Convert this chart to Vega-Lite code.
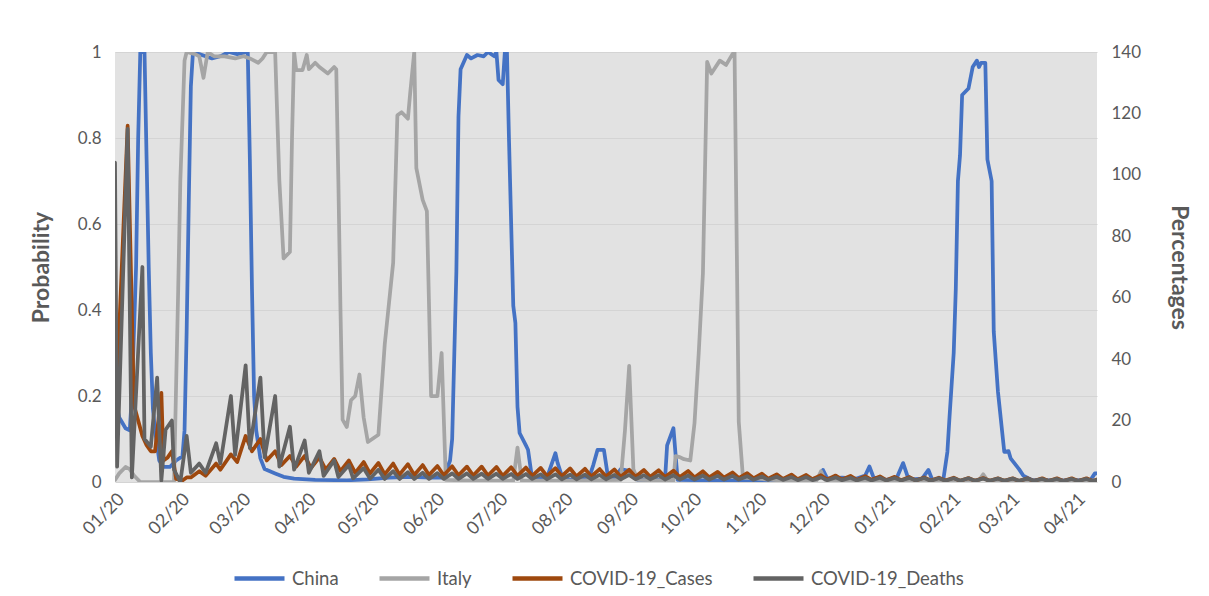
{
  "$schema": "https://vega.github.io/schema/vega-lite/v6.json",
  "width": 982,
  "height": 430,
  "autosize": {"type": "none"},
  "padding": {"left": 115, "top": 52, "right": 112, "bottom": 114},
  "background": "white",
  "config": {
    "font": "Lato",
    "view": {"fill": "#e2e2e2", "stroke": null},
    "axis": {"labelColor": "#595959", "labelFontSize": 17, "titleColor": "#595959", "titleFontSize": 23, "titleFontWeight": "bold", "domain": false, "ticks": false}
  },
  "datasets": {
    "prob": [
      {"date":"2020-01-22","series":"China","value":0.2},
      {"date":"2020-01-24","series":"China","value":0.15},
      {"date":"2020-01-27","series":"China","value":0.125},
      {"date":"2020-01-29","series":"China","value":0.12},
      {"date":"2020-01-30","series":"China","value":0.2},
      {"date":"2020-02-01","series":"China","value":0.5},
      {"date":"2020-02-02","series":"China","value":0.8},
      {"date":"2020-02-03","series":"China","value":1.0},
      {"date":"2020-02-05","series":"China","value":1.0},
      {"date":"2020-02-06","series":"China","value":0.75},
      {"date":"2020-02-07","series":"China","value":0.5},
      {"date":"2020-02-08","series":"China","value":0.3},
      {"date":"2020-02-09","series":"China","value":0.17},
      {"date":"2020-02-10","series":"China","value":0.12},
      {"date":"2020-02-12","series":"China","value":0.05},
      {"date":"2020-02-14","series":"China","value":0.035},
      {"date":"2020-02-17","series":"China","value":0.035},
      {"date":"2020-02-20","series":"China","value":0.05},
      {"date":"2020-02-23","series":"China","value":0.06},
      {"date":"2020-02-24","series":"China","value":0.12},
      {"date":"2020-02-25","series":"China","value":0.35},
      {"date":"2020-02-26","series":"China","value":0.65},
      {"date":"2020-02-27","series":"China","value":0.92},
      {"date":"2020-02-28","series":"China","value":1.0},
      {"date":"2020-03-02","series":"China","value":0.995},
      {"date":"2020-03-05","series":"China","value":0.99},
      {"date":"2020-03-08","series":"China","value":0.985},
      {"date":"2020-03-12","series":"China","value":0.99},
      {"date":"2020-03-16","series":"China","value":1.0},
      {"date":"2020-03-20","series":"China","value":0.995},
      {"date":"2020-03-25","series":"China","value":1.0},
      {"date":"2020-03-26","series":"China","value":0.75},
      {"date":"2020-03-27","series":"China","value":0.45},
      {"date":"2020-03-28","series":"China","value":0.2},
      {"date":"2020-03-29","series":"China","value":0.12},
      {"date":"2020-03-31","series":"China","value":0.055},
      {"date":"2020-04-02","series":"China","value":0.03},
      {"date":"2020-04-07","series":"China","value":0.02},
      {"date":"2020-04-11","series":"China","value":0.012},
      {"date":"2020-04-16","series":"China","value":0.008},
      {"date":"2020-04-26","series":"China","value":0.005},
      {"date":"2020-05-11","series":"China","value":0.004},
      {"date":"2020-05-21","series":"China","value":0.006},
      {"date":"2020-05-31","series":"China","value":0.01},
      {"date":"2020-06-10","series":"China","value":0.012},
      {"date":"2020-06-20","series":"China","value":0.01},
      {"date":"2020-06-26","series":"China","value":0.01},
      {"date":"2020-06-29","series":"China","value":0.05},
      {"date":"2020-06-30","series":"China","value":0.1},
      {"date":"2020-07-02","series":"China","value":0.49},
      {"date":"2020-07-03","series":"China","value":0.85},
      {"date":"2020-07-04","series":"China","value":0.96},
      {"date":"2020-07-07","series":"China","value":0.993},
      {"date":"2020-07-09","series":"China","value":0.985},
      {"date":"2020-07-12","series":"China","value":0.993},
      {"date":"2020-07-15","series":"China","value":0.99},
      {"date":"2020-07-17","series":"China","value":1.0},
      {"date":"2020-07-20","series":"China","value":0.99},
      {"date":"2020-07-21","series":"China","value":1.0},
      {"date":"2020-07-22","series":"China","value":0.935},
      {"date":"2020-07-24","series":"China","value":0.925},
      {"date":"2020-07-25","series":"China","value":1.0},
      {"date":"2020-07-26","series":"China","value":1.0},
      {"date":"2020-07-27","series":"China","value":0.79},
      {"date":"2020-07-29","series":"China","value":0.41},
      {"date":"2020-07-30","series":"China","value":0.37},
      {"date":"2020-07-31","series":"China","value":0.175},
      {"date":"2020-08-01","series":"China","value":0.114},
      {"date":"2020-08-04","series":"China","value":0.085},
      {"date":"2020-08-05","series":"China","value":0.075},
      {"date":"2020-08-07","series":"China","value":0.006},
      {"date":"2020-08-14","series":"China","value":0.01},
      {"date":"2020-08-18","series":"China","value":0.067},
      {"date":"2020-08-19","series":"China","value":0.045},
      {"date":"2020-08-21","series":"China","value":0.015},
      {"date":"2020-08-25","series":"China","value":0.005},
      {"date":"2020-09-03","series":"China","value":0.01},
      {"date":"2020-09-05","series":"China","value":0.04},
      {"date":"2020-09-07","series":"China","value":0.075},
      {"date":"2020-09-10","series":"China","value":0.075},
      {"date":"2020-09-12","series":"China","value":0.01},
      {"date":"2020-09-15","series":"China","value":0.008},
      {"date":"2020-09-18","series":"China","value":0.03},
      {"date":"2020-09-23","series":"China","value":0.025},
      {"date":"2020-09-26","series":"China","value":0.005},
      {"date":"2020-10-09","series":"China","value":0.005},
      {"date":"2020-10-10","series":"China","value":0.085},
      {"date":"2020-10-13","series":"China","value":0.125},
      {"date":"2020-10-15","series":"China","value":0.005},
      {"date":"2020-10-28","series":"China","value":0.004},
      {"date":"2020-11-17","series":"China","value":0.004},
      {"date":"2020-12-02","series":"China","value":0.005},
      {"date":"2020-12-17","series":"China","value":0.006},
      {"date":"2020-12-21","series":"China","value":0.01},
      {"date":"2020-12-23","series":"China","value":0.028},
      {"date":"2020-12-25","series":"China","value":0.008},
      {"date":"2021-01-01","series":"China","value":0.01},
      {"date":"2021-01-08","series":"China","value":0.008},
      {"date":"2021-01-12","series":"China","value":0.015},
      {"date":"2021-01-14","series":"China","value":0.036},
      {"date":"2021-01-16","series":"China","value":0.01},
      {"date":"2021-01-22","series":"China","value":0.005},
      {"date":"2021-01-27","series":"China","value":0.01},
      {"date":"2021-01-30","series":"China","value":0.044},
      {"date":"2021-02-01","series":"China","value":0.015},
      {"date":"2021-02-03","series":"China","value":0.006},
      {"date":"2021-02-08","series":"China","value":0.008},
      {"date":"2021-02-11","series":"China","value":0.028},
      {"date":"2021-02-13","series":"China","value":0.003},
      {"date":"2021-02-18","series":"China","value":0.003},
      {"date":"2021-02-20","series":"China","value":0.07},
      {"date":"2021-02-21","series":"China","value":0.15},
      {"date":"2021-02-23","series":"China","value":0.3},
      {"date":"2021-02-24","series":"China","value":0.45},
      {"date":"2021-02-25","series":"China","value":0.7},
      {"date":"2021-02-26","series":"China","value":0.76},
      {"date":"2021-02-27","series":"China","value":0.9},
      {"date":"2021-03-02","series":"China","value":0.915},
      {"date":"2021-03-04","series":"China","value":0.965},
      {"date":"2021-03-06","series":"China","value":0.98},
      {"date":"2021-03-07","series":"China","value":0.965},
      {"date":"2021-03-08","series":"China","value":0.975},
      {"date":"2021-03-10","series":"China","value":0.975},
      {"date":"2021-03-11","series":"China","value":0.75},
      {"date":"2021-03-13","series":"China","value":0.7},
      {"date":"2021-03-14","series":"China","value":0.35},
      {"date":"2021-03-16","series":"China","value":0.21},
      {"date":"2021-03-19","series":"China","value":0.07},
      {"date":"2021-03-21","series":"China","value":0.072},
      {"date":"2021-03-22","series":"China","value":0.055},
      {"date":"2021-03-26","series":"China","value":0.03},
      {"date":"2021-03-28","series":"China","value":0.015},
      {"date":"2021-04-01","series":"China","value":0.005},
      {"date":"2021-04-16","series":"China","value":0.004},
      {"date":"2021-04-29","series":"China","value":0.005},
      {"date":"2021-05-01","series":"China","value":0.02},
      {"date":"2021-05-02","series":"China","value":0.02},
      {"date":"2020-01-22","series":"Italy","value":0.005},
      {"date":"2020-01-24","series":"Italy","value":0.02},
      {"date":"2020-01-27","series":"Italy","value":0.035},
      {"date":"2020-01-29","series":"Italy","value":0.03},
      {"date":"2020-01-31","series":"Italy","value":0.015},
      {"date":"2020-02-03","series":"Italy","value":0.0},
      {"date":"2020-02-11","series":"Italy","value":0.0},
      {"date":"2020-02-19","series":"Italy","value":0.0},
      {"date":"2020-02-21","series":"Italy","value":0.45},
      {"date":"2020-02-22","series":"Italy","value":0.7},
      {"date":"2020-02-24","series":"Italy","value":0.98},
      {"date":"2020-02-25","series":"Italy","value":1.0},
      {"date":"2020-02-29","series":"Italy","value":0.995},
      {"date":"2020-03-02","series":"Italy","value":0.99},
      {"date":"2020-03-04","series":"Italy","value":0.94},
      {"date":"2020-03-06","series":"Italy","value":1.0},
      {"date":"2020-03-09","series":"Italy","value":0.99},
      {"date":"2020-03-14","series":"Italy","value":0.99},
      {"date":"2020-03-19","series":"Italy","value":0.985},
      {"date":"2020-03-23","series":"Italy","value":0.99},
      {"date":"2020-03-26","series":"Italy","value":0.985},
      {"date":"2020-03-30","series":"Italy","value":0.975},
      {"date":"2020-04-01","series":"Italy","value":0.985},
      {"date":"2020-04-03","series":"Italy","value":1.0},
      {"date":"2020-04-07","series":"Italy","value":1.0},
      {"date":"2020-04-09","series":"Italy","value":0.7},
      {"date":"2020-04-11","series":"Italy","value":0.52},
      {"date":"2020-04-14","series":"Italy","value":0.535},
      {"date":"2020-04-15","series":"Italy","value":0.8},
      {"date":"2020-04-16","series":"Italy","value":1.0},
      {"date":"2020-04-17","series":"Italy","value":0.958},
      {"date":"2020-04-20","series":"Italy","value":0.958},
      {"date":"2020-04-22","series":"Italy","value":0.993},
      {"date":"2020-04-23","series":"Italy","value":0.96},
      {"date":"2020-04-26","series":"Italy","value":0.975},
      {"date":"2020-04-28","series":"Italy","value":0.965},
      {"date":"2020-05-02","series":"Italy","value":0.95},
      {"date":"2020-05-05","series":"Italy","value":0.965},
      {"date":"2020-05-06","series":"Italy","value":0.96},
      {"date":"2020-05-07","series":"Italy","value":0.7},
      {"date":"2020-05-08","series":"Italy","value":0.4},
      {"date":"2020-05-09","series":"Italy","value":0.145},
      {"date":"2020-05-11","series":"Italy","value":0.128},
      {"date":"2020-05-13","series":"Italy","value":0.19},
      {"date":"2020-05-15","series":"Italy","value":0.2},
      {"date":"2020-05-17","series":"Italy","value":0.25},
      {"date":"2020-05-19","series":"Italy","value":0.15},
      {"date":"2020-05-21","series":"Italy","value":0.093},
      {"date":"2020-05-26","series":"Italy","value":0.11},
      {"date":"2020-05-29","series":"Italy","value":0.32},
      {"date":"2020-06-02","series":"Italy","value":0.51},
      {"date":"2020-06-04","series":"Italy","value":0.853},
      {"date":"2020-06-06","series":"Italy","value":0.86},
      {"date":"2020-06-09","series":"Italy","value":0.845},
      {"date":"2020-06-10","series":"Italy","value":0.9},
      {"date":"2020-06-12","series":"Italy","value":1.0},
      {"date":"2020-06-13","series":"Italy","value":0.73},
      {"date":"2020-06-16","series":"Italy","value":0.656},
      {"date":"2020-06-18","series":"Italy","value":0.63},
      {"date":"2020-06-20","series":"Italy","value":0.2},
      {"date":"2020-06-23","series":"Italy","value":0.2},
      {"date":"2020-06-25","series":"Italy","value":0.3},
      {"date":"2020-06-27","series":"Italy","value":0.005},
      {"date":"2020-07-10","series":"Italy","value":0.003},
      {"date":"2020-07-29","series":"Italy","value":0.003},
      {"date":"2020-07-31","series":"Italy","value":0.08},
      {"date":"2020-08-02","series":"Italy","value":0.003},
      {"date":"2020-08-24","series":"Italy","value":0.003},
      {"date":"2020-09-18","series":"Italy","value":0.005},
      {"date":"2020-09-20","series":"Italy","value":0.12},
      {"date":"2020-09-22","series":"Italy","value":0.27},
      {"date":"2020-09-24","series":"Italy","value":0.03},
      {"date":"2020-09-26","series":"Italy","value":0.005},
      {"date":"2020-10-13","series":"Italy","value":0.003},
      {"date":"2020-10-14","series":"Italy","value":0.06},
      {"date":"2020-10-16","series":"Italy","value":0.058},
      {"date":"2020-10-18","series":"Italy","value":0.053},
      {"date":"2020-10-21","series":"Italy","value":0.05},
      {"date":"2020-10-23","series":"Italy","value":0.137},
      {"date":"2020-10-25","series":"Italy","value":0.3},
      {"date":"2020-10-27","series":"Italy","value":0.486},
      {"date":"2020-10-29","series":"Italy","value":0.977},
      {"date":"2020-10-31","series":"Italy","value":0.95},
      {"date":"2020-11-04","series":"Italy","value":0.98},
      {"date":"2020-11-07","series":"Italy","value":0.97},
      {"date":"2020-11-10","series":"Italy","value":0.995},
      {"date":"2020-11-11","series":"Italy","value":1.0},
      {"date":"2020-11-13","series":"Italy","value":0.14},
      {"date":"2020-11-15","series":"Italy","value":0.01},
      {"date":"2020-12-02","series":"Italy","value":0.004},
      {"date":"2020-12-20","series":"Italy","value":0.004},
      {"date":"2020-12-22","series":"Italy","value":0.025},
      {"date":"2020-12-24","series":"Italy","value":0.005},
      {"date":"2021-01-16","series":"Italy","value":0.003},
      {"date":"2021-02-15","series":"Italy","value":0.003},
      {"date":"2021-03-07","series":"Italy","value":0.004},
      {"date":"2021-03-09","series":"Italy","value":0.018},
      {"date":"2021-03-11","series":"Italy","value":0.004},
      {"date":"2021-04-06","series":"Italy","value":0.003},
      {"date":"2021-05-02","series":"Italy","value":0.003}
    ],
    "pct": [
      {"date":"2020-01-22","series":"COVID-19_Cases","value":38},
      {"date":"2020-01-23","series":"COVID-19_Cases","value":33},
      {"date":"2020-01-28","series":"COVID-19_Cases","value":116},
      {"date":"2020-01-31","series":"COVID-19_Cases","value":25},
      {"date":"2020-02-02","series":"COVID-19_Cases","value":20},
      {"date":"2020-02-04","series":"COVID-19_Cases","value":15},
      {"date":"2020-02-06","series":"COVID-19_Cases","value":12},
      {"date":"2020-02-08","series":"COVID-19_Cases","value":10},
      {"date":"2020-02-10","series":"COVID-19_Cases","value":10},
      {"date":"2020-02-13","series":"COVID-19_Cases","value":29},
      {"date":"2020-02-14","series":"COVID-19_Cases","value":7},
      {"date":"2020-02-16","series":"COVID-19_Cases","value":8},
      {"date":"2020-02-18","series":"COVID-19_Cases","value":10},
      {"date":"2020-02-20","series":"COVID-19_Cases","value":1},
      {"date":"2020-02-23","series":"COVID-19_Cases","value":0.5},
      {"date":"2020-02-25","series":"COVID-19_Cases","value":1.5},
      {"date":"2020-02-27","series":"COVID-19_Cases","value":1.5},
      {"date":"2020-03-02","series":"COVID-19_Cases","value":3.5},
      {"date":"2020-03-05","series":"COVID-19_Cases","value":2},
      {"date":"2020-03-10","series":"COVID-19_Cases","value":6},
      {"date":"2020-03-12","series":"COVID-19_Cases","value":4},
      {"date":"2020-03-17","series":"COVID-19_Cases","value":9},
      {"date":"2020-03-20","series":"COVID-19_Cases","value":6.5},
      {"date":"2020-03-24","series":"COVID-19_Cases","value":15},
      {"date":"2020-03-27","series":"COVID-19_Cases","value":10},
      {"date":"2020-03-31","series":"COVID-19_Cases","value":14},
      {"date":"2020-04-03","series":"COVID-19_Cases","value":7},
      {"date":"2020-04-07","series":"COVID-19_Cases","value":10},
      {"date":"2020-04-10","series":"COVID-19_Cases","value":5.5},
      {"date":"2020-04-14","series":"COVID-19_Cases","value":8.5},
      {"date":"2020-04-17","series":"COVID-19_Cases","value":5},
      {"date":"2020-04-21","series":"COVID-19_Cases","value":8.5},
      {"date":"2020-04-24","series":"COVID-19_Cases","value":4.5},
      {"date":"2020-04-28","series":"COVID-19_Cases","value":8},
      {"date":"2020-05-01","series":"COVID-19_Cases","value":4},
      {"date":"2020-05-05","series":"COVID-19_Cases","value":7.5},
      {"date":"2020-05-08","series":"COVID-19_Cases","value":3.5},
      {"date":"2020-05-12","series":"COVID-19_Cases","value":7},
      {"date":"2020-05-15","series":"COVID-19_Cases","value":3},
      {"date":"2020-05-19","series":"COVID-19_Cases","value":6.5},
      {"date":"2020-05-22","series":"COVID-19_Cases","value":2.8},
      {"date":"2020-05-26","series":"COVID-19_Cases","value":6.2},
      {"date":"2020-05-29","series":"COVID-19_Cases","value":2.5},
      {"date":"2020-06-02","series":"COVID-19_Cases","value":6},
      {"date":"2020-06-05","series":"COVID-19_Cases","value":2.4},
      {"date":"2020-06-09","series":"COVID-19_Cases","value":5.8},
      {"date":"2020-06-12","series":"COVID-19_Cases","value":2.3},
      {"date":"2020-06-16","series":"COVID-19_Cases","value":5.5},
      {"date":"2020-06-19","series":"COVID-19_Cases","value":2.3},
      {"date":"2020-06-23","series":"COVID-19_Cases","value":5.2},
      {"date":"2020-06-26","series":"COVID-19_Cases","value":2.2},
      {"date":"2020-06-30","series":"COVID-19_Cases","value":5.1},
      {"date":"2020-07-03","series":"COVID-19_Cases","value":2.2},
      {"date":"2020-07-07","series":"COVID-19_Cases","value":5.0},
      {"date":"2020-07-10","series":"COVID-19_Cases","value":2.1},
      {"date":"2020-07-14","series":"COVID-19_Cases","value":5.0},
      {"date":"2020-07-17","series":"COVID-19_Cases","value":2.1},
      {"date":"2020-07-21","series":"COVID-19_Cases","value":4.9},
      {"date":"2020-07-24","series":"COVID-19_Cases","value":2.0},
      {"date":"2020-07-28","series":"COVID-19_Cases","value":4.8},
      {"date":"2020-07-31","series":"COVID-19_Cases","value":2.0},
      {"date":"2020-08-04","series":"COVID-19_Cases","value":4.7},
      {"date":"2020-08-07","series":"COVID-19_Cases","value":2.0},
      {"date":"2020-08-11","series":"COVID-19_Cases","value":4.6},
      {"date":"2020-08-14","series":"COVID-19_Cases","value":1.9},
      {"date":"2020-08-18","series":"COVID-19_Cases","value":4.5},
      {"date":"2020-08-21","series":"COVID-19_Cases","value":1.9},
      {"date":"2020-08-25","series":"COVID-19_Cases","value":4.4},
      {"date":"2020-08-28","series":"COVID-19_Cases","value":1.8},
      {"date":"2020-09-01","series":"COVID-19_Cases","value":4.3},
      {"date":"2020-09-04","series":"COVID-19_Cases","value":1.8},
      {"date":"2020-09-08","series":"COVID-19_Cases","value":4.2},
      {"date":"2020-09-11","series":"COVID-19_Cases","value":1.8},
      {"date":"2020-09-15","series":"COVID-19_Cases","value":4.1},
      {"date":"2020-09-18","series":"COVID-19_Cases","value":1.7},
      {"date":"2020-09-22","series":"COVID-19_Cases","value":4.0},
      {"date":"2020-09-25","series":"COVID-19_Cases","value":1.7},
      {"date":"2020-09-29","series":"COVID-19_Cases","value":3.9},
      {"date":"2020-10-02","series":"COVID-19_Cases","value":1.7},
      {"date":"2020-10-06","series":"COVID-19_Cases","value":3.8},
      {"date":"2020-10-09","series":"COVID-19_Cases","value":1.6},
      {"date":"2020-10-13","series":"COVID-19_Cases","value":3.7},
      {"date":"2020-10-16","series":"COVID-19_Cases","value":1.6},
      {"date":"2020-10-20","series":"COVID-19_Cases","value":3.6},
      {"date":"2020-10-23","series":"COVID-19_Cases","value":1.5},
      {"date":"2020-10-27","series":"COVID-19_Cases","value":3.5},
      {"date":"2020-10-30","series":"COVID-19_Cases","value":1.5},
      {"date":"2020-11-03","series":"COVID-19_Cases","value":3.3},
      {"date":"2020-11-06","series":"COVID-19_Cases","value":1.4},
      {"date":"2020-11-10","series":"COVID-19_Cases","value":3.1},
      {"date":"2020-11-13","series":"COVID-19_Cases","value":1.3},
      {"date":"2020-11-17","series":"COVID-19_Cases","value":2.9},
      {"date":"2020-11-20","series":"COVID-19_Cases","value":1.2},
      {"date":"2020-11-24","series":"COVID-19_Cases","value":2.7},
      {"date":"2020-11-27","series":"COVID-19_Cases","value":1.1},
      {"date":"2020-12-01","series":"COVID-19_Cases","value":2.5},
      {"date":"2020-12-04","series":"COVID-19_Cases","value":1.0},
      {"date":"2020-12-08","series":"COVID-19_Cases","value":2.4},
      {"date":"2020-12-11","series":"COVID-19_Cases","value":0.9},
      {"date":"2020-12-15","series":"COVID-19_Cases","value":2.3},
      {"date":"2020-12-18","series":"COVID-19_Cases","value":0.9},
      {"date":"2020-12-22","series":"COVID-19_Cases","value":2.2},
      {"date":"2020-12-25","series":"COVID-19_Cases","value":0.8},
      {"date":"2020-12-29","series":"COVID-19_Cases","value":2.1},
      {"date":"2021-01-01","series":"COVID-19_Cases","value":0.8},
      {"date":"2021-01-05","series":"COVID-19_Cases","value":2.0},
      {"date":"2021-01-08","series":"COVID-19_Cases","value":0.7},
      {"date":"2021-01-12","series":"COVID-19_Cases","value":1.9},
      {"date":"2021-01-15","series":"COVID-19_Cases","value":0.7},
      {"date":"2021-01-19","series":"COVID-19_Cases","value":1.8},
      {"date":"2021-01-22","series":"COVID-19_Cases","value":0.6},
      {"date":"2021-01-26","series":"COVID-19_Cases","value":1.7},
      {"date":"2021-01-29","series":"COVID-19_Cases","value":0.6},
      {"date":"2021-02-02","series":"COVID-19_Cases","value":1.6},
      {"date":"2021-02-05","series":"COVID-19_Cases","value":0.5},
      {"date":"2021-02-09","series":"COVID-19_Cases","value":1.5},
      {"date":"2021-02-12","series":"COVID-19_Cases","value":0.5},
      {"date":"2021-02-16","series":"COVID-19_Cases","value":1.4},
      {"date":"2021-02-19","series":"COVID-19_Cases","value":0.5},
      {"date":"2021-02-23","series":"COVID-19_Cases","value":1.4},
      {"date":"2021-02-26","series":"COVID-19_Cases","value":0.4},
      {"date":"2021-03-02","series":"COVID-19_Cases","value":1.3},
      {"date":"2021-03-05","series":"COVID-19_Cases","value":0.4},
      {"date":"2021-03-09","series":"COVID-19_Cases","value":1.3},
      {"date":"2021-03-12","series":"COVID-19_Cases","value":0.4},
      {"date":"2021-03-16","series":"COVID-19_Cases","value":1.2},
      {"date":"2021-03-19","series":"COVID-19_Cases","value":0.4},
      {"date":"2021-03-23","series":"COVID-19_Cases","value":1.2},
      {"date":"2021-03-26","series":"COVID-19_Cases","value":0.3},
      {"date":"2021-03-30","series":"COVID-19_Cases","value":1.2},
      {"date":"2021-04-02","series":"COVID-19_Cases","value":0.3},
      {"date":"2021-04-06","series":"COVID-19_Cases","value":1.2},
      {"date":"2021-04-09","series":"COVID-19_Cases","value":0.3},
      {"date":"2021-04-13","series":"COVID-19_Cases","value":1.2},
      {"date":"2021-04-16","series":"COVID-19_Cases","value":0.3},
      {"date":"2021-04-20","series":"COVID-19_Cases","value":1.2},
      {"date":"2021-04-23","series":"COVID-19_Cases","value":0.3},
      {"date":"2021-04-27","series":"COVID-19_Cases","value":1.2},
      {"date":"2021-04-30","series":"COVID-19_Cases","value":0.3},
      {"date":"2021-05-02","series":"COVID-19_Cases","value":0.8},
      {"date":"2020-01-22","series":"COVID-19_Deaths","value":104},
      {"date":"2020-01-23","series":"COVID-19_Deaths","value":5},
      {"date":"2020-01-28","series":"COVID-19_Deaths","value":115},
      {"date":"2020-01-30","series":"COVID-19_Deaths","value":1.5},
      {"date":"2020-02-04","series":"COVID-19_Deaths","value":70},
      {"date":"2020-02-05","series":"COVID-19_Deaths","value":14},
      {"date":"2020-02-08","series":"COVID-19_Deaths","value":11.5},
      {"date":"2020-02-11","series":"COVID-19_Deaths","value":34},
      {"date":"2020-02-13","series":"COVID-19_Deaths","value":0.5},
      {"date":"2020-02-15","series":"COVID-19_Deaths","value":17},
      {"date":"2020-02-18","series":"COVID-19_Deaths","value":20},
      {"date":"2020-02-19","series":"COVID-19_Deaths","value":4},
      {"date":"2020-02-22","series":"COVID-19_Deaths","value":0},
      {"date":"2020-02-25","series":"COVID-19_Deaths","value":15},
      {"date":"2020-02-27","series":"COVID-19_Deaths","value":3},
      {"date":"2020-03-02","series":"COVID-19_Deaths","value":6},
      {"date":"2020-03-05","series":"COVID-19_Deaths","value":3},
      {"date":"2020-03-10","series":"COVID-19_Deaths","value":12.6},
      {"date":"2020-03-12","series":"COVID-19_Deaths","value":6},
      {"date":"2020-03-17","series":"COVID-19_Deaths","value":28},
      {"date":"2020-03-19","series":"COVID-19_Deaths","value":8.8},
      {"date":"2020-03-24","series":"COVID-19_Deaths","value":38},
      {"date":"2020-03-26","series":"COVID-19_Deaths","value":11},
      {"date":"2020-03-31","series":"COVID-19_Deaths","value":34},
      {"date":"2020-04-02","series":"COVID-19_Deaths","value":8},
      {"date":"2020-04-07","series":"COVID-19_Deaths","value":28},
      {"date":"2020-04-09","series":"COVID-19_Deaths","value":5},
      {"date":"2020-04-14","series":"COVID-19_Deaths","value":18},
      {"date":"2020-04-16","series":"COVID-19_Deaths","value":4},
      {"date":"2020-04-21","series":"COVID-19_Deaths","value":13.5},
      {"date":"2020-04-23","series":"COVID-19_Deaths","value":3},
      {"date":"2020-04-28","series":"COVID-19_Deaths","value":10},
      {"date":"2020-04-30","series":"COVID-19_Deaths","value":2},
      {"date":"2020-05-05","series":"COVID-19_Deaths","value":7},
      {"date":"2020-05-07","series":"COVID-19_Deaths","value":1.6},
      {"date":"2020-05-12","series":"COVID-19_Deaths","value":5.5},
      {"date":"2020-05-14","series":"COVID-19_Deaths","value":1.2},
      {"date":"2020-05-19","series":"COVID-19_Deaths","value":4.5},
      {"date":"2020-05-22","series":"COVID-19_Deaths","value":1.1},
      {"date":"2020-05-26","series":"COVID-19_Deaths","value":4},
      {"date":"2020-05-29","series":"COVID-19_Deaths","value":1.0},
      {"date":"2020-06-02","series":"COVID-19_Deaths","value":3.5},
      {"date":"2020-06-05","series":"COVID-19_Deaths","value":1.0},
      {"date":"2020-06-09","series":"COVID-19_Deaths","value":3.2},
      {"date":"2020-06-12","series":"COVID-19_Deaths","value":1.0},
      {"date":"2020-06-16","series":"COVID-19_Deaths","value":3.0},
      {"date":"2020-06-19","series":"COVID-19_Deaths","value":1.0},
      {"date":"2020-06-23","series":"COVID-19_Deaths","value":2.9},
      {"date":"2020-06-26","series":"COVID-19_Deaths","value":1.0},
      {"date":"2020-06-30","series":"COVID-19_Deaths","value":2.8},
      {"date":"2020-07-03","series":"COVID-19_Deaths","value":1.0},
      {"date":"2020-07-07","series":"COVID-19_Deaths","value":2.8},
      {"date":"2020-07-10","series":"COVID-19_Deaths","value":1.0},
      {"date":"2020-07-14","series":"COVID-19_Deaths","value":2.7},
      {"date":"2020-07-17","series":"COVID-19_Deaths","value":1.0},
      {"date":"2020-07-21","series":"COVID-19_Deaths","value":2.7},
      {"date":"2020-07-24","series":"COVID-19_Deaths","value":1.0},
      {"date":"2020-07-28","series":"COVID-19_Deaths","value":2.6},
      {"date":"2020-07-31","series":"COVID-19_Deaths","value":1.0},
      {"date":"2020-08-04","series":"COVID-19_Deaths","value":2.6},
      {"date":"2020-08-07","series":"COVID-19_Deaths","value":1.0},
      {"date":"2020-08-11","series":"COVID-19_Deaths","value":2.5},
      {"date":"2020-08-14","series":"COVID-19_Deaths","value":0.9},
      {"date":"2020-08-18","series":"COVID-19_Deaths","value":2.5},
      {"date":"2020-08-21","series":"COVID-19_Deaths","value":0.9},
      {"date":"2020-08-25","series":"COVID-19_Deaths","value":2.4},
      {"date":"2020-08-28","series":"COVID-19_Deaths","value":0.9},
      {"date":"2020-09-01","series":"COVID-19_Deaths","value":2.4},
      {"date":"2020-09-04","series":"COVID-19_Deaths","value":0.9},
      {"date":"2020-09-08","series":"COVID-19_Deaths","value":2.3},
      {"date":"2020-09-11","series":"COVID-19_Deaths","value":0.9},
      {"date":"2020-09-15","series":"COVID-19_Deaths","value":2.3},
      {"date":"2020-09-18","series":"COVID-19_Deaths","value":0.9},
      {"date":"2020-09-22","series":"COVID-19_Deaths","value":2.3},
      {"date":"2020-09-25","series":"COVID-19_Deaths","value":0.9},
      {"date":"2020-09-29","series":"COVID-19_Deaths","value":2.2},
      {"date":"2020-10-02","series":"COVID-19_Deaths","value":0.9},
      {"date":"2020-10-06","series":"COVID-19_Deaths","value":2.2},
      {"date":"2020-10-09","series":"COVID-19_Deaths","value":0.8},
      {"date":"2020-10-13","series":"COVID-19_Deaths","value":2.2},
      {"date":"2020-10-16","series":"COVID-19_Deaths","value":0.8},
      {"date":"2020-10-20","series":"COVID-19_Deaths","value":2.1},
      {"date":"2020-10-23","series":"COVID-19_Deaths","value":0.8},
      {"date":"2020-10-27","series":"COVID-19_Deaths","value":2.1},
      {"date":"2020-10-30","series":"COVID-19_Deaths","value":0.8},
      {"date":"2020-11-03","series":"COVID-19_Deaths","value":2.0},
      {"date":"2020-11-06","series":"COVID-19_Deaths","value":0.8},
      {"date":"2020-11-10","series":"COVID-19_Deaths","value":2.0},
      {"date":"2020-11-13","series":"COVID-19_Deaths","value":0.8},
      {"date":"2020-11-17","series":"COVID-19_Deaths","value":1.9},
      {"date":"2020-11-20","series":"COVID-19_Deaths","value":0.7},
      {"date":"2020-11-24","series":"COVID-19_Deaths","value":1.8},
      {"date":"2020-11-27","series":"COVID-19_Deaths","value":0.7},
      {"date":"2020-12-01","series":"COVID-19_Deaths","value":1.7},
      {"date":"2020-12-04","series":"COVID-19_Deaths","value":0.7},
      {"date":"2020-12-08","series":"COVID-19_Deaths","value":1.6},
      {"date":"2020-12-11","series":"COVID-19_Deaths","value":0.6},
      {"date":"2020-12-15","series":"COVID-19_Deaths","value":1.6},
      {"date":"2020-12-18","series":"COVID-19_Deaths","value":0.6},
      {"date":"2020-12-22","series":"COVID-19_Deaths","value":1.5},
      {"date":"2020-12-25","series":"COVID-19_Deaths","value":0.6},
      {"date":"2020-12-29","series":"COVID-19_Deaths","value":1.5},
      {"date":"2021-01-01","series":"COVID-19_Deaths","value":0.6},
      {"date":"2021-01-05","series":"COVID-19_Deaths","value":1.4},
      {"date":"2021-01-08","series":"COVID-19_Deaths","value":0.5},
      {"date":"2021-01-12","series":"COVID-19_Deaths","value":1.4},
      {"date":"2021-01-15","series":"COVID-19_Deaths","value":0.5},
      {"date":"2021-01-19","series":"COVID-19_Deaths","value":1.4},
      {"date":"2021-01-22","series":"COVID-19_Deaths","value":0.5},
      {"date":"2021-01-26","series":"COVID-19_Deaths","value":1.3},
      {"date":"2021-01-29","series":"COVID-19_Deaths","value":0.5},
      {"date":"2021-02-02","series":"COVID-19_Deaths","value":1.3},
      {"date":"2021-02-05","series":"COVID-19_Deaths","value":0.5},
      {"date":"2021-02-09","series":"COVID-19_Deaths","value":1.3},
      {"date":"2021-02-12","series":"COVID-19_Deaths","value":0.4},
      {"date":"2021-02-16","series":"COVID-19_Deaths","value":1.2},
      {"date":"2021-02-19","series":"COVID-19_Deaths","value":0.4},
      {"date":"2021-02-23","series":"COVID-19_Deaths","value":1.2},
      {"date":"2021-02-26","series":"COVID-19_Deaths","value":0.4},
      {"date":"2021-03-02","series":"COVID-19_Deaths","value":1.2},
      {"date":"2021-03-05","series":"COVID-19_Deaths","value":0.4},
      {"date":"2021-03-09","series":"COVID-19_Deaths","value":1.1},
      {"date":"2021-03-12","series":"COVID-19_Deaths","value":0.4},
      {"date":"2021-03-16","series":"COVID-19_Deaths","value":1.1},
      {"date":"2021-03-19","series":"COVID-19_Deaths","value":0.4},
      {"date":"2021-03-23","series":"COVID-19_Deaths","value":1.1},
      {"date":"2021-03-26","series":"COVID-19_Deaths","value":0.4},
      {"date":"2021-03-30","series":"COVID-19_Deaths","value":1.1},
      {"date":"2021-04-02","series":"COVID-19_Deaths","value":0.4},
      {"date":"2021-04-06","series":"COVID-19_Deaths","value":1.0},
      {"date":"2021-04-09","series":"COVID-19_Deaths","value":0.3},
      {"date":"2021-04-13","series":"COVID-19_Deaths","value":1.0},
      {"date":"2021-04-16","series":"COVID-19_Deaths","value":0.3},
      {"date":"2021-04-20","series":"COVID-19_Deaths","value":1.0},
      {"date":"2021-04-23","series":"COVID-19_Deaths","value":0.3},
      {"date":"2021-04-27","series":"COVID-19_Deaths","value":1.0},
      {"date":"2021-04-30","series":"COVID-19_Deaths","value":0.3},
      {"date":"2021-05-02","series":"COVID-19_Deaths","value":0.7}
    ]
  },
  "encoding": {
    "x": {
      "field": "date", "type": "temporal",
      "scale": {"type": "utc", "domain": [{"year": 2020, "month": 1, "date": 22, "utc": true}, {"year": 2021, "month": 5, "date": 2, "utc": true}]},
      "axis": {
        "title": null, "format": "%m/%y", "formatType": "utc", "labelExpr": "utcFormat(datum.value, '%m/%y')",
        "labelAngle": -45, "labelPadding": 8, "grid": false, "labelFontSize": 18,
        "values": [
          {"year": 2020, "month": 1, "date": 22, "utc": true},
          {"year": 2020, "month": 2, "date": 22, "utc": true},
          {"year": 2020, "month": 3, "date": 22, "utc": true},
          {"year": 2020, "month": 4, "date": 22, "utc": true},
          {"year": 2020, "month": 5, "date": 22, "utc": true},
          {"year": 2020, "month": 6, "date": 22, "utc": true},
          {"year": 2020, "month": 7, "date": 22, "utc": true},
          {"year": 2020, "month": 8, "date": 22, "utc": true},
          {"year": 2020, "month": 9, "date": 22, "utc": true},
          {"year": 2020, "month": 10, "date": 22, "utc": true},
          {"year": 2020, "month": 11, "date": 22, "utc": true},
          {"year": 2020, "month": 12, "date": 22, "utc": true},
          {"year": 2021, "month": 1, "date": 22, "utc": true},
          {"year": 2021, "month": 2, "date": 22, "utc": true},
          {"year": 2021, "month": 3, "date": 22, "utc": true},
          {"year": 2021, "month": 4, "date": 22, "utc": true}
        ]
      }
    },
    "color": {
      "field": "series", "type": "nominal",
      "scale": {"domain": ["China", "Italy", "COVID-19_Cases", "COVID-19_Deaths"], "range": ["#4472C4", "#A5A5A5", "#9E480E", "#636363"]},
      "legend": {
        "title": null, "orient": "none", "direction": "horizontal", "legendX": 117, "legendY": 499,
        "symbolType": "stroke", "symbolSize": 2500, "symbolStrokeWidth": 4.5, "labelFontSize": 18.5, "labelColor": "#595959",
        "labelOffset": 5, "columnPadding": 31, "padding": 0
      }
    }
  },
  "layer": [
    {
      "data": {"name": "prob"},
      "mark": {"type": "line", "strokeWidth": 3.75, "strokeJoin": "round", "strokeCap": "round", "clip": true},
      "encoding": {
        "y": {
          "field": "value", "type": "quantitative",
          "scale": {"domain": [0, 1], "nice": false},
          "axis": {"title": "Probability", "values": [0, 0.2, 0.4, 0.6, 0.8, 1], "format": ".1~f", "grid": true, "gridColor": "#d4d4d4", "gridWidth": 1, "labelPadding": 14, "titlePadding": 24}
        }
      }
    },
    {
      "data": {"name": "pct"},
      "mark": {"type": "line", "strokeWidth": 3.75, "strokeJoin": "round", "strokeCap": "round", "clip": true},
      "encoding": {
        "y": {
          "field": "value", "type": "quantitative",
          "scale": {"domain": [0, 140], "nice": false},
          "axis": {"orient": "right", "title": "Percentages", "values": [0, 20, 40, 60, 80, 100, 120, 140], "grid": false, "labelPadding": 14, "titlePadding": 26}
        }
      }
    }
  ],
  "resolve": {"scale": {"y": "independent"}}
}
